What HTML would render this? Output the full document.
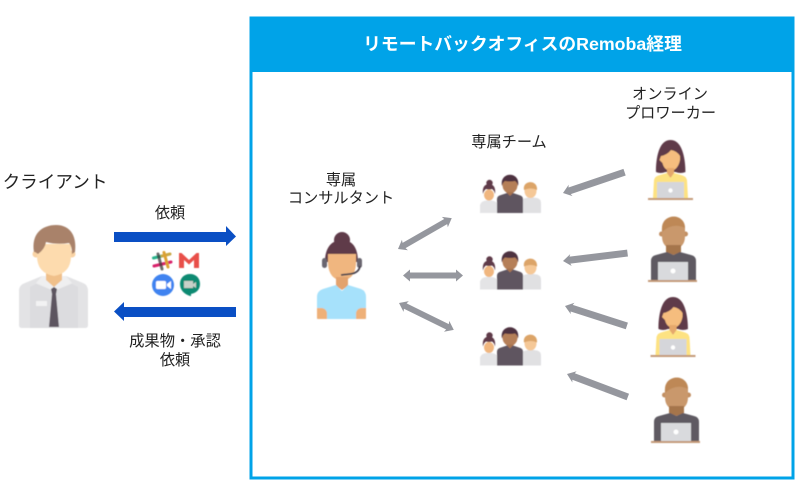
<!DOCTYPE html>
<html lang="ja">
<head>
<meta charset="utf-8">
<style>
html,body{margin:0;padding:0;background:#fff;width:811px;height:496px;overflow:hidden}
svg{display:block}
text{font-family:"Liberation Sans","Noto Sans CJK JP",sans-serif;fill:#222;text-anchor:middle}
</style>
</head>
<body>
<svg width="811" height="496" viewBox="0 0 811 496" xmlns="http://www.w3.org/2000/svg">
<defs>
<filter id="b" x="-10%" y="-10%" width="120%" height="120%"><feGaussianBlur stdDeviation="0.45"/></filter>
<g id="team">
  <!-- left woman -->
  <path d="M480 213v-8q1-3 4-4l5-1 5 1 4 2v10z" fill="#e4e4e6"/>
  <ellipse cx="489" cy="195" rx="5" ry="5.500" fill="#f0b67f"/>
  <circle cx="489.500" cy="183" r="3.200" fill="#5f3a48"/>
  <path d="M483 194c-1-7 2-10 6-10s7 3 6 10q-1-4-3-5-3 1-6 0-2 1-3 5z" fill="#5f3a48"/>
  <!-- right man -->
  <path d="M522 213v-14l8-2 7 1q4 1 4 5v10z" fill="#e0e0e2"/>
  <ellipse cx="530.500" cy="191" rx="6" ry="7" fill="#f5c897"/>
  <path d="M524 190c-2-10 14-11 13 0q-6-3-13 0z" fill="#dca468"/>
  <!-- middle man -->
  <path d="M497 213v-14q0-3 4-4l6-2h6l6 2q4 1 4 4v14z" fill="#5e5560"/>
  <ellipse cx="510" cy="185" rx="7.500" ry="8.500" fill="#b57f58"/>
  <path d="M502 186c-3-15 19-15 16 0q-1-4-3-5-5 1-10 0-2 1-3 5z" fill="#4e3040"/>
  <path d="M506 192l4 4 4-4z" fill="#a8744f"/>
</g>
<g id="woman">
  <path d="M656 172c0-8 1-32 14.500-32s15 24 15 32q-5 2-10 0h-10q-5 2-9.500 0z" fill="#5f3a48"/>
  <path d="M661 156q6-1 10-6 6 1 9 6v4q-2 10-9.500 11-6.500-1-8-8l-3-3z" fill="#f5bd7e"/>
  <path d="M667 168h7v6l-3.500 4-3.500-4z" fill="#e5a86c"/>
  <path d="M653 198l1-18q1-4 6-5l7-2 3.500 5 3.500-5 7 2q5 1 6 5l1 18z" fill="#fde282"/>
  <rect x="657" y="182" width="27" height="16" fill="#d5d6da"/>
  <circle cx="670.500" cy="190.500" r="2.200" fill="#fff"/>
  <rect x="648" y="198" width="45" height="2" fill="#c49a78"/>
</g>
<g id="man">
  <circle cx="661.500" cy="234" r="2.500" fill="#c28f62"/>
  <circle cx="685.500" cy="234" r="2.500" fill="#c28f62"/>
  <path d="M662 228c0-15 23-15 23 0v8q0 12-11.500 13-11.500-1-11.500-13z" fill="#c9986c"/>
  <path d="M662 232c-2-20 23-20 23-4q-12-6-23 4z" fill="#b9834f" opacity=".75"/>
  <path d="M666 245h15v7l-7.500 3-7.500-3z" fill="#a5744c"/>
  <path d="M651 280v-19q0-5 5-6l11-3 6.500 3 6.500-3 11 3q5 1 5 6v19z" fill="#5f5a62"/>
  <rect x="658" y="262" width="30" height="18" fill="#d9dadd"/>
  <circle cx="673" cy="271" r="2.500" fill="#fff"/>
  <rect x="648" y="280" width="49" height="2" fill="#c49a78"/>
</g>
<polygon id="a" points="0,0 8,-6 7,-3.500 65,-3.500 65,3.500 7,3.500 8,6" fill="#95979e"/>
</defs>

<!-- frame -->
<rect x="251" y="18" width="542" height="460" fill="#fff" stroke="#00a3e8" stroke-width="3"/>
<rect x="250" y="17" width="544" height="55" fill="#00a3e8"/>
<text x="522.500" y="50" font-size="17.800" font-weight="bold" style="fill:#fff">リモートバックオフィスのRemoba経理</text>

<!-- labels -->
<text x="55" y="188" font-size="17.600">クライアント</text>
<text x="170" y="218" font-size="15.200">依頼</text>
<text x="175" y="346" font-size="15.300">成果物・承認</text>
<text x="175" y="365" font-size="15.200">依頼</text>
<text x="341" y="185" font-size="15.200">専属</text>
<text x="341" y="203" font-size="15.200">コンサルタント</text>
<text x="509" y="147" font-size="15.200">専属チーム</text>
<text x="670" y="99" font-size="15.200">オンライン</text>
<text x="670.500" y="118" font-size="15.200">プロワーカー</text>

<!-- blue arrows -->
<polygon points="114,232 226,232 226,226 236,236.500 226,246 226,242 114,242" fill="#0a4fc4"/>
<polygon points="236,307 124,307 124,302 114,311.500 124,321 124,317 236,317" fill="#0a4fc4"/>

<g filter="url(#b)">
<!-- client -->
<path d="M19 325v-34q0-6 6-8l17-7h24l17 7q5 2 5 8v34q0 3-3 3H22q-3 0-3-3z" fill="#e3e3e5"/>
<path d="M36 283l6-7h24l6 7-18 8z" fill="#efeff0"/>
<path d="M36 284l-6 3v41h48v-41l-6-3-18 7z" fill="#dcdcdf"/>
<rect x="36" y="301" width="11" height="5" fill="#f2f2f3"/>
<path d="M46 272h16v8l-8 7-8-7z" fill="#f0c08a"/>
<circle cx="36" cy="254" r="3.500" fill="#f9d3a4"/>
<circle cx="72" cy="254" r="3.500" fill="#f9d3a4"/>
<path d="M37 244h34v12q0 17-17 20-17-3-17-20z" fill="#fddbae"/>
<path d="M34 252c-3-18 8-27 22-27 15 0 21 12 19 27l-3 2q0-8-3-11-12 2-23-1-1 7-8 12l-3-2z" fill="#a9826b"/>
<path d="M51 289l3-2 3 2-1 5 3 33H49l3-33z" fill="#5d5560"/>

<!-- consultant -->
<circle cx="342" cy="240" r="8" fill="#5f3a48"/>
<path d="M325 262c0-15 7-22 17-22s16 7 16 22l-4 0q0-6-3-8h-18q-3 2-3 8z" fill="#5f3a48"/>
<rect x="322" y="258" width="5" height="10" rx="2.500" fill="#6a6670"/>
<rect x="357" y="258" width="5" height="10" rx="2.500" fill="#6a6670"/>
<path d="M328 254h28v10q-1 15-14 17-13-2-14-17z" fill="#f0b67f"/>
<path d="M336 277h12v9l-6 4-6-4z" fill="#e3a36e"/>
<path d="M317 319v-22q0-6 6-8l13-4 6 6 6-6 13 4q5 2 5 8v22z" fill="#a6e1fb"/>
<path d="M317 308h5q5 1 5 6v5h-9q-1 0-1-1zM366 308h-5q-5 1-5 6v5h9q1 0 1-1z" fill="#eeb078"/>
<path d="M360 266q-1 7-10 8l-9 1" fill="none" stroke="#4a4550" stroke-width="1.800"/>

<!-- icons -->
<g stroke-width="3" stroke-linecap="round">
  <line x1="153.500" y1="258" x2="162" y2="256" stroke="#2ab48c"/>
  <line x1="162" y1="256" x2="170" y2="254" stroke="#c9a845"/>
  <line x1="154" y1="266" x2="171" y2="262" stroke="#d8246a"/>
  <line x1="158" y1="254" x2="162" y2="269" stroke="#3a3a3a" opacity=".75"/>
  <line x1="164" y1="252.500" x2="168" y2="267" stroke="#dca030"/>
</g>
<path d="M179 268v-15h2.500l7.500 7 7.500-7h2.500v15h-5v-8l-5 4.500-5-4.500v8z" fill="#e8504a"/>
<circle cx="163" cy="285" r="11" fill="#3f83f0"/>
<rect x="156" y="281" width="10" height="8" rx="1.500" fill="#fff"/>
<path d="M167 284l4-3v8l-4-3z" fill="#fff"/>
<path d="M190 274c6 0 10 4 10 10s-4 9-9 10v2l-1 0c-6-2-10-6-10-12s4-10 10-10z" fill="#0f8a72"/>
<rect x="184" y="281" width="9" height="7" fill="#c8d0c8"/>
<path d="M193 284l3-2v6l-3-2z" fill="#c8d0c8"/>

<!-- teams -->
<use href="#team"/>
<use href="#team" y="76.500"/>
<use href="#team" y="152.500"/>

<!-- workers -->
<use href="#woman"/>
<use href="#man"/>
<use href="#woman" x="2.500" y="157"/>
<use href="#man" x="3" y="161"/>
</g>

<!-- gray double arrows -->
<g fill="#95979e">
  <polygon transform="translate(398,249) rotate(-29.900)" points="0,0 8,-6 7,-3 55,-3 54,-6 62,0 54,6 55,3 7,3 8,6"/>
  <polygon transform="translate(403,275.500)" points="0,0 7,-6 7,-3 53,-3 53,-6 60,0 53,6 53,3 7,3 7,6"/>
  <polygon transform="translate(399,303) rotate(26.100)" points="0,0 8,-6 7,-3 54,-3 53,-6 61,0 53,6 54,3 7,3 8,6"/>
</g>
<!-- gray single arrows -->
<use href="#a" transform="translate(563,193) rotate(-18.700)"/>
<use href="#a" transform="translate(563,261) rotate(-7)"/>
<use href="#a" transform="translate(565,306) rotate(17.900)"/>
<use href="#a" transform="translate(567,374) rotate(20.700)"/>
</svg>
</body>
</html>
